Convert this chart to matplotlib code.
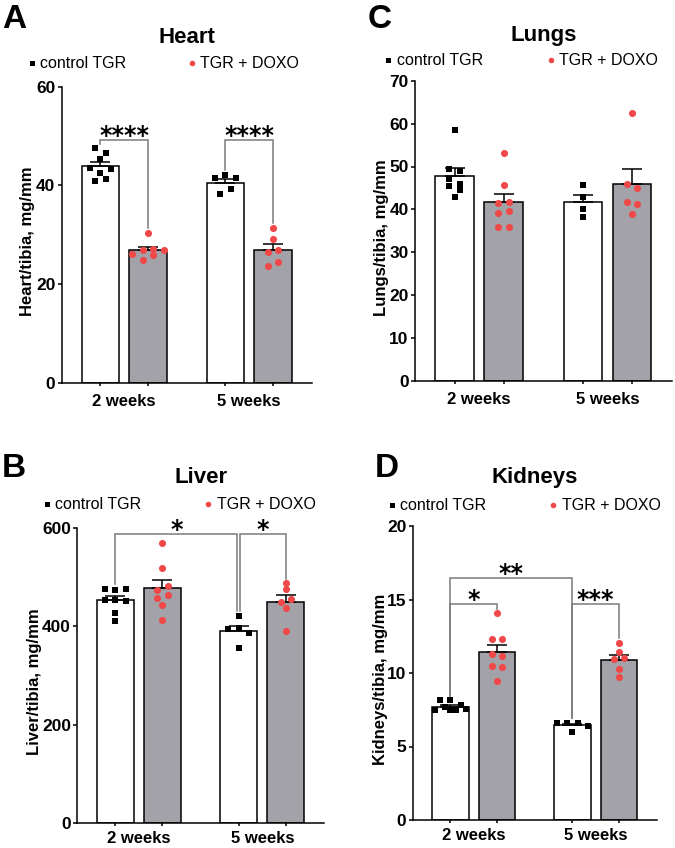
import numpy as np
import matplotlib
matplotlib.use("Agg")
import matplotlib.pyplot as plt

plt.rcParams['font.family'] = ['Liberation Sans', 'DejaVu Sans']

# ---------------- data ----------------
GROUPS = ["2 weeks", "5 weeks"]
SERIES = ["control TGR", "TGR + DOXO"]

heart_ctrl_2w = [47.5, 46.6, 45.3, 43.6, 42.6, 43.4, 40.9, 41.2]
heart_doxo_2w = [30.4, 26.1, 26.9, 27.1, 26.8, 24.9, 25.9]
heart_ctrl_5w = [41.4, 42.2, 41.4, 38.2, 39.2]
heart_doxo_5w = [31.4, 29.1, 26.4, 26.8, 23.7, 24.4]

lungs_ctrl_2w = [58.5, 49.5, 48.9, 47.1, 45.9, 45.5, 44.5, 42.9]
lungs_doxo_2w = [53.1, 45.8, 41.6, 41.7, 39.1, 39.7, 36.0, 36.0]
lungs_ctrl_5w = [45.8, 42.8, 40.1, 38.2]
lungs_doxo_5w = [62.5, 45.9, 45.0, 41.7, 41.3, 38.9]

liver_ctrl_2w = [476, 473, 476, 453, 453, 451, 427, 411]
liver_doxo_2w = [569, 518, 473, 481, 458, 463, 444, 412]
liver_ctrl_5w = [421, 395, 396, 386, 355]
liver_doxo_5w = [487, 475, 450, 456, 437, 390]

kidney_ctrl_2w = [8.14, 8.16, 7.80, 7.46, 7.67, 7.48, 7.53, 7.45]
kidney_doxo_2w = [14.05, 12.3, 12.3, 11.3, 11.15, 10.5, 10.4, 9.45]
kidney_ctrl_5w = [6.62, 6.58, 6.62, 6.39, 5.99]
kidney_doxo_5w = [12.05, 11.45, 10.97, 11.04, 10.25, 9.7]

# ---------------- layout / style ----------------
W, H = 675, 848
POS = np.array([0.0, 1.27, 3.33, 4.60])
CENTERS = [(POS[0] + POS[1]) / 2, (POS[2] + POS[3]) / 2]
XLIM = (-1.03, 5.63)
GRAY = '#A2A2A8'
RED = '#F04848'
BRK = '#7a7a7a'
LW = 1.1

PANELS = [
    dict(letter="A", title="Heart", ylabel="Heart/tibia, mg/mm", ymax=60, ystep=20,
         data=[heart_ctrl_2w, heart_doxo_2w, heart_ctrl_5w, heart_doxo_5w],
         box=(61.7, 86.7, 311.7, 382.7), letter_xy=(2, 28.3), title_xy=(186.7, 43.3),
         leg=(31.7, 191.7, 68.3), ylab_xy=(28, 240.8), xpad=8.0,
         brackets=[(0, 1, 49.2, "****", 0, 0), (2, 3, 49.2, "****", 0, 0)]),
    dict(letter="C", title="Lungs", ylabel="Lungs/tibia, mg/mm", ymax=70, ystep=10,
         data=[lungs_ctrl_2w, lungs_doxo_2w, lungs_ctrl_5w, lungs_doxo_5w],
         box=(415, 80.7, 671.7, 381), letter_xy=(368, 28.3), title_xy=(543.5, 40.7),
         leg=(388.3, 550.7, 65.0), ylab_xy=(381.3, 237.7), xpad=8.0, brackets=[]),
    dict(letter="B", title="Liver", ylabel="Liver/tibia, mg/mm", ymax=600, ystep=200,
         data=[liver_ctrl_2w, liver_doxo_2w, liver_ctrl_5w, liver_doxo_5w],
         box=(77.3, 527.7, 324, 823.3), letter_xy=(1.7, 477), title_xy=(200.7, 482.7),
         leg=(46.7, 208.3, 509.3), ylab_xy=(34.5, 682), xpad=5.5,
         brackets=[(0, 2, 587, "*", 0, -0.04), (2, 3, 587, "*", 0.04, 0)]),
    dict(letter="D", title="Kidneys", ylabel="Kidneys/tibia, mg/mm", ymax=20, ystep=5,
         data=[kidney_ctrl_2w, kidney_doxo_2w, kidney_ctrl_5w, kidney_doxo_5w],
         box=(412.7, 526, 656.7, 820), letter_xy=(375, 477), title_xy=(535, 482.7),
         leg=(391.7, 553.3, 510), ylab_xy=(380.5, 679.7), xpad=5.5,
         brackets=[(0, 2, 16.44, "**", 0, 0), (0, 1, 14.69, "*", 0, 0), (2, 3, 14.69, "***", 0, 0)]),
]


def swarm_offsets(ax, values, step_px=10.5, row_px=5.5, max_per_row=4):
    vals = np.asarray(values, float)
    ypx = ax.transData.transform(np.column_stack([np.zeros_like(vals), vals]))[:, 1]
    ppu = ax.transData.transform((1, 0))[0] - ax.transData.transform((0, 0))[0]
    order = np.argsort(-ypx, kind='stable')
    rows, cur = [], []
    for idx in order:
        if cur and (ypx[cur[0]] - ypx[idx] <= row_px) and len(cur) < max_per_row:
            cur.append(idx)
        else:
            if cur:
                rows.append(cur)
            cur = [idx]
    rows.append(cur)
    off = np.zeros(len(vals))
    for r in rows:
        r = sorted(r)
        n = len(r)
        for k, idx in enumerate(r):
            off[idx] = (k - (n - 1) / 2) * step_px / ppu
    return off


fig = plt.figure(figsize=(W / 100, H / 100), dpi=100)
ov = fig.add_axes([0, 0, 1, 1])
ov.set_xlim(0, W)
ov.set_ylim(H, 0)
ov.axis('off')

for p in PANELS:
    l, t, r, b = p['box']
    ax = fig.add_axes([l / W, (H - b) / H, (r - l) / W, (b - t) / H])
    ax.set_xlim(*XLIM)
    ax.set_ylim(0, p['ymax'])
    for s in ['top', 'right']:
        ax.spines[s].set_visible(False)
    for s in ['left', 'bottom']:
        ax.spines[s].set_linewidth(LW)

    data = p['data']
    means = np.array([np.mean(d) for d in data])
    sems = np.array([np.std(d, ddof=1) / np.sqrt(len(d)) for d in data])
    colors = ['white', GRAY, 'white', GRAY]
    ax.bar(POS, means, width=1.0, color=colors, edgecolor='black', linewidth=LW, zorder=2)
    ax.errorbar(POS, means, yerr=[np.zeros(4), sems], fmt='none', ecolor='black',
                elinewidth=LW, capsize=7, capthick=LW, zorder=3)
    tops = []
    for i, d in enumerate(data):
        off = swarm_offsets(ax, d)
        if i % 2 == 0:
            ax.plot(POS[i] + off, d, 's', ms=4.9, color='black', mew=0, zorder=4, clip_on=False)
        else:
            ax.plot(POS[i] + off, d, 'o', ms=5.1, color=RED, mew=0, zorder=4, clip_on=False)
        tops.append(max(max(d), means[i] + sems[i]))

    # significance brackets
    ppu_y = ax.transData.transform((0, 1))[1] - ax.transData.transform((0, 0))[1]
    gap = 4.5 / ppu_y
    for (i, j, ytop, stars, dxl, dxr) in p['brackets']:
        xl, xr = POS[i] + dxl, POS[j] + dxr
        ax.plot([xl, xl, xr, xr], [tops[i] + gap, ytop, ytop, tops[j] + gap],
                color=BRK, lw=LW, zorder=1.5, solid_joinstyle='miter')
        ax.annotate(stars, xy=((xl + xr) / 2, ytop), xytext=(0, -2.0),
                    textcoords='offset points', ha='center', va='baseline',
                    fontsize=17, fontweight='bold', family='DejaVu Sans', zorder=5)

    yt = np.arange(0, p['ymax'] + 0.001, p['ystep'])
    ax.set_yticks(yt)
    ax.set_yticklabels([str(int(v)) for v in yt], fontweight='bold', fontsize=12.5)
    ax.tick_params(axis='y', length=3, width=LW, pad=1.5)
    ax.set_xticks(POS)
    ax.set_xticklabels([''] * 4)
    ax.set_xticks(CENTERS, minor=True)
    ax.set_xticklabels(GROUPS, minor=True, fontweight='bold', fontsize=12)
    ax.tick_params(axis='x', which='major', length=2.5, width=LW)
    ax.tick_params(axis='x', which='minor', length=0, pad=p['xpad'])

    # figure-level texts
    ov.text(p['letter_xy'][0], p['letter_xy'][1], p['letter'], fontsize=24, fontweight='bold',
            ha='left', va='baseline')
    ov.text(p['title_xy'][0], p['title_xy'][1], p['title'], fontsize=16, fontweight='bold',
            ha='center', va='baseline')
    ov.text(p['ylab_xy'][0], p['ylab_xy'][1], p['ylabel'], fontsize=12, fontweight='bold',
            rotation=90, ha='center', va='center')
    xs, xd, yb = p['leg']
    ov.plot([xs], [yb - 5.3], 's', ms=3.6, color='black', mew=0)
    ov.plot([xd], [yb - 5.3], 'o', ms=4.0, color=RED, mew=0)
    ov.text(xs + 8.3, yb, SERIES[0], fontsize=11.5, ha='left', va='baseline')
    ov.text(xd + 8.3, yb, SERIES[1], fontsize=11.5, ha='left', va='baseline')

fig.savefig("out.png", dpi=100)
